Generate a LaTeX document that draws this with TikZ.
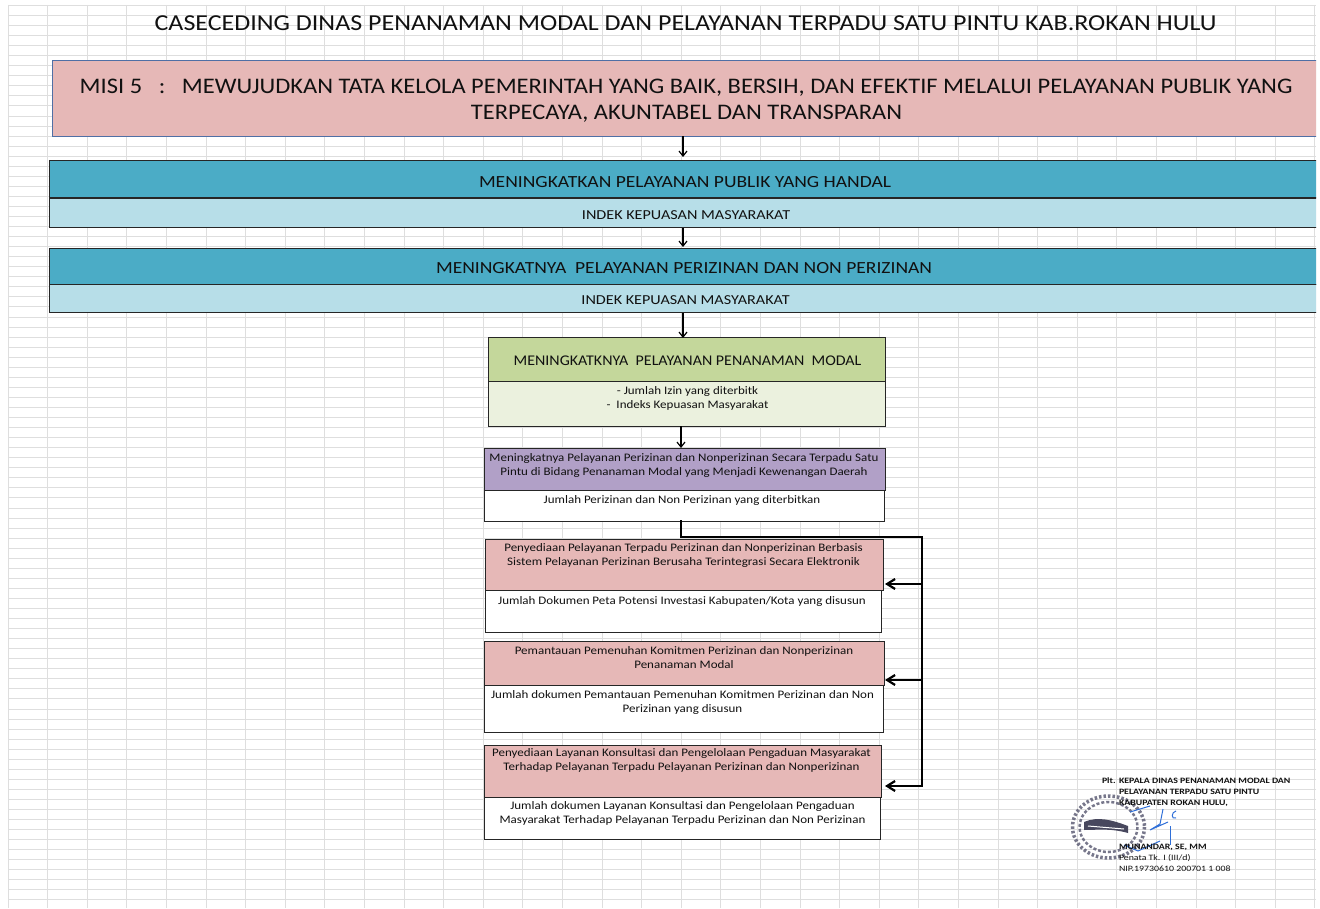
\documentclass[tikz,border=0pt]{standalone}
\usepackage{fontspec}
\setmainfont{Carlito}
\usetikzlibrary{arrows.meta}
\definecolor{pinkbox}{HTML}{E6B8B7}
\definecolor{tealbox}{HTML}{4BACC6}
\definecolor{tealpale}{HTML}{B7DEE8}
\definecolor{greenbox}{HTML}{C4D79B}
\definecolor{greenpale}{HTML}{EBF1DE}
\definecolor{purplebox}{HTML}{B1A0C7}
\definecolor{gridc}{HTML}{DEDEDE}
\definecolor{misiline}{HTML}{4F6FA5}
\definecolor{inkc}{HTML}{111111}
\definecolor{sealc}{HTML}{55556E}
\definecolor{signc}{HTML}{2F6FD8}
\tikzset{
  x=1pt,y=-1pt,
  boxn/.style={draw=#1,line width=1pt,anchor=north west,inner sep=0pt,outer sep=0pt},
  boxn/.default=black!85,
  txt/.style={inner sep=0pt,outer sep=0pt,text=inkc,align=center},
  titlet/.style={txt,font=\addfontfeatures{FakeStretch=1.14}\fontsize{22.8}{26}\selectfont},
  misit/.style={txt,font=\addfontfeatures{FakeStretch=1.10}\fontsize{22.25}{26}\selectfont},
  bigt/.style={txt,font=\addfontfeatures{FakeStretch=1.15}\fontsize{17}{20}\selectfont},
  midt/.style={txt,font=\addfontfeatures{FakeStretch=1.18}\fontsize{13.7}{16}\selectfont},
  greent/.style={txt,font=\addfontfeatures{FakeStretch=1.08}\fontsize{14.8}{17}\selectfont},
  smallt/.style={txt,font=\addfontfeatures{FakeStretch=1.13}\fontsize{11.5}{14}\selectfont},
  signt/.style={inner sep=0pt,outer sep=0pt,anchor=west,text=inkc,font=\addfontfeatures{FakeStretch=1.2}\fontsize{8.2}{10}\selectfont},
  flow/.style={draw=black,line width=1.2pt,-{Straight Barb[length=5pt,width=8pt]}},
  trunk/.style={draw=black,line width=2.6pt,line cap=rect},
  branch/.style={draw=black,line width=2.2pt,-{Straight Barb[length=8pt,width=10pt,line width=2.2pt]}},
}
\begin{document}
\begin{tikzpicture}
\useasboundingbox (0,0) rectangle (1320,909);
\fill[white] (0,0) rectangle (1320,909);
% spreadsheet grid
\begin{scope}[draw=gridc,line width=1pt]
\draw (8,5) -- (8,908);
\foreach \i in {0,...,32}{\draw ({47.6+39.6*\i},5) -- ({47.6+39.6*\i},908);}
\foreach \i in {0,...,89}{\draw (8,{5.5+10.05*\i}) -- (1316,{5.5+10.05*\i});}
\end{scope}
% wide boxes, cut at the sheet edge
\begin{scope}
\clip (0,0) rectangle (1316,909);
\node[boxn=misiline,fill=pinkbox,minimum width=1290pt,minimum height=75.5pt] (misi) at (52.5,61) {};
\node[boxn,fill=tealbox,minimum width=1290pt,minimum height=37pt] (a1) at (49.5,161) {};
\node[boxn,fill=tealpale,minimum width=1290pt,minimum height=29pt] (a2) at (49.5,199) {};
\node[boxn,fill=tealbox,minimum width=1290pt,minimum height=36pt] (b1) at (49.5,249) {};
\node[boxn,fill=tealpale,minimum width=1290pt,minimum height=28pt] (b2) at (49.5,285) {};
\end{scope}
% central boxes
\node[boxn,fill=greenbox,minimum width=396.5pt,minimum height=43pt] (c1) at (488.5,338) {};
\node[boxn,fill=greenpale,minimum width=396.5pt,minimum height=45pt] (c2) at (488.5,381) {};
\node[boxn,fill=purplebox,minimum width=400.5pt,minimum height=42pt] (d1) at (484.5,448) {};
\node[boxn,fill=white,minimum width=400pt,minimum height=31pt] (d2) at (484.5,490) {};
\node[boxn,fill=pinkbox,minimum width=397.5pt,minimum height=51pt] (e1) at (485.5,539) {};
\node[boxn,fill=white,minimum width=395.5pt,minimum height=42pt] (e2) at (485.5,590) {};
\node[boxn,fill=pinkbox,minimum width=399.5pt,minimum height=44pt] (f1) at (484.5,641) {};
\node[boxn,fill=white,minimum width=398.5pt,minimum height=47pt] (f2) at (484.5,685) {};
\node[boxn,fill=pinkbox,minimum width=396.5pt,minimum height=52pt] (g1) at (484.5,745) {};
\node[boxn,fill=white,minimum width=396pt,minimum height=42pt] (g2) at (484.5,797) {};
% texts
\node[titlet] (title) at (685.5,23) {CASECEDING DINAS PENANAMAN MODAL DAN PELAYANAN TERPADU SATU PINTU KAB.ROKAN HULU};
\node[misit] (misit1) at (686,88) {MISI 5\ \ \ :\ \ \ MEWUJUDKAN TATA KELOLA PEMERINTAH YANG BAIK, BERSIH, DAN EFEKTIF MELALUI PELAYANAN PUBLIK YANG};
\node[misit] (misit2) at (686.5,114) {TERPECAYA, AKUNTABEL DAN TRANSPARAN};
\node[bigt] (a1t) at (685,182.5) {MENINGKATKAN PELAYANAN PUBLIK YANG HANDAL};
\node[midt] (a2t) at (686,215.5) {INDEK KEPUASAN MASYARAKAT};
\node[bigt] (b1t) at (684,268.5) {MENINGKATNYA\ \ PELAYANAN PERIZINAN DAN NON PERIZINAN};
\node[midt] (b2t) at (685.5,300.5) {INDEK KEPUASAN MASYARAKAT};
\node[greent] (c1t) at (687.5,360.5) {MENINGKATKNYA\ \ PELAYANAN PENANAMAN\ \ MODAL};
\node[smallt] (c2t) at (687.5,398) {- Jumlah Izin yang diterbitk\\-\ \ Indeks Kepuasan Masyarakat};
\node[smallt] (d1t) at (684,465) {Meningkatnya Pelayanan Perizinan dan Nonperizinan Secara Terpadu Satu\\Pintu di Bidang Penanaman Modal yang Menjadi Kewenangan Daerah};
\node[smallt] (d2t) at (682,500.5) {Jumlah Perizinan dan Non Perizinan yang diterbitkan};
\node[smallt] (e1t) at (683.5,555) {Penyediaan Pelayanan Terpadu Perizinan dan Nonperizinan Berbasis\\Sistem Pelayanan Perizinan Berusaha Terintegrasi Secara Elektronik};
\node[smallt] (e2t) at (682,601) {Jumlah Dokumen Peta Potensi Investasi Kabupaten/Kota yang disusun};
\node[smallt] (f1t) at (684,658) {Pemantauan Pemenuhan Komitmen Perizinan dan Nonperizinan\\Penanaman Modal};
\node[smallt] (f2t) at (682.5,702) {Jumlah dokumen Pemantauan Pemenuhan Komitmen Perizinan dan Non\\Perizinan yang disusun};
\node[smallt] (g1t) at (681.5,760.5) {Penyediaan Layanan Konsultasi dan Pengelolaan Pengaduan Masyarakat\\Terhadap Pelayanan Terpadu Pelayanan Perizinan dan Nonperizinan};
\node[smallt] (g2t) at (682.5,813) {Jumlah dokumen Layanan Konsultasi dan Pengelolaan Pengaduan\\Masyarakat Terhadap Pelayanan Terpadu Perizinan dan Non Perizinan};
% vertical flow
\draw[flow] (misi.south -| 683,0) -- (683,157);
\draw[flow] (a2.south -| 683,0) -- (683,247);
\draw[flow] (b2.south -| 683,0) -- (683,338);
\draw[flow] (c2.south -| 681,0) -- (681,448);
% branching connector
\coordinate (tr0) at (681,537);
\coordinate (tr1) at (922,537);
\coordinate (tr2) at (922,786);
\draw[trunk] (d2.south -| 681,0) -- (tr0) -- (tr1) -- (tr2);
\draw[branch] (tr2) -- (885,786);
\draw[branch] (922,584) -- (885,584);
\draw[branch] (922,680) -- (885,680);
% seal
\begin{scope}[draw=sealc]
\draw[line width=3.5pt,dash pattern=on 2.5pt off 2pt,opacity=.8] (1108.5,827) ellipse [x radius=36,y radius=31];
\draw[line width=2.5pt,dash pattern=on 3pt off 2pt,opacity=.8] (1108.5,827) ellipse [x radius=29,y radius=25];
\fill[sealc!85!black] (1084,822) .. controls (1098,816) and (1112,820) .. (1128,826) -- (1128,833) .. controls (1110,828) and (1098,830) .. (1084,830) -- cycle;
\draw[line width=1pt,white] (1088,826) -- (1124,829);
\end{scope}
% signature
\begin{scope}[draw=signc,line width=1pt]
\draw (1130,812) -- (1150,806);
\draw (1163,809) -- (1160,824) -- (1150,830) -- (1168,822);
\draw (1176,811) .. controls (1171,812) and (1171,820) .. (1176,818);
\draw (1124,845) -- (1138,851) -- (1160,841);
\draw[line width=.4pt] (1170,826) -- (1170,845);
\end{scope}
% signature block
\node[signt] (s0) at (1102,780.5) {\bfseries Plt.};
\node[signt] (s1) at (1119,780.5) {\bfseries KEPALA DINAS PENANAMAN MODAL DAN};
\node[signt] (s2) at (1119,791.5) {\bfseries PELAYANAN TERPADU SATU PINTU};
\node[signt] (s3) at (1119,803) {\bfseries KABUPATEN ROKAN HULU,};
\node[signt] (s4) at (1119,847) {\bfseries MUNANDAR, SE, MM};
\node[signt] (s5) at (1119,858) {Penata Tk. I (III/d)};
\node[signt] (s6) at (1119,869) {NIP.19730610 200701 1 008};
\end{tikzpicture}
\end{document}
